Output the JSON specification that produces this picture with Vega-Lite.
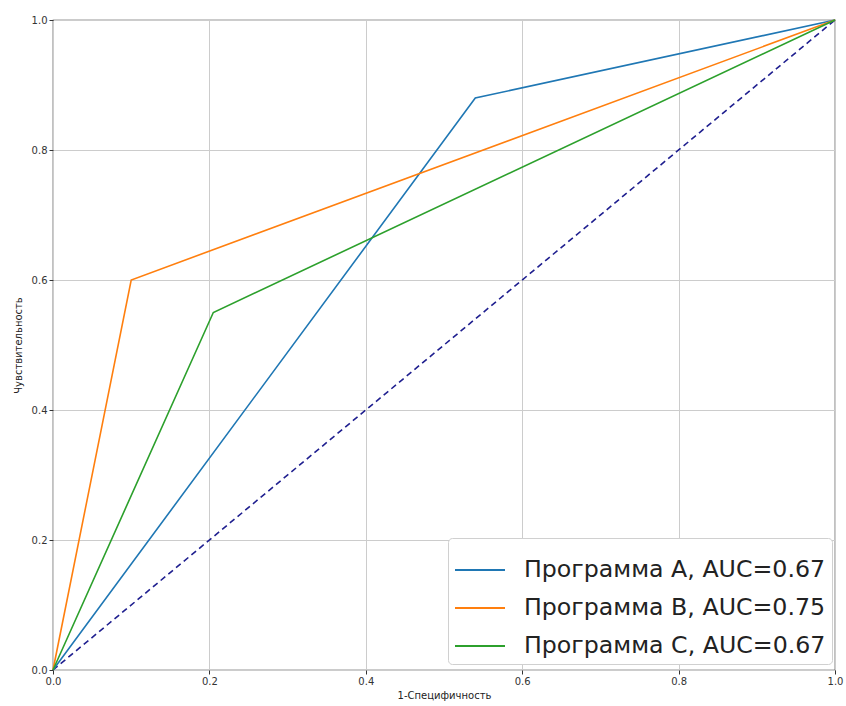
{
  "$schema": "https://vega.github.io/schema/vega-lite/v6.json",
  "width": 782,
  "height": 650,
  "autosize": "none",
  "padding": {"left": 53, "top": 20, "right": 11, "bottom": 36},
  "background": "white",
  "config": {
    "font": "DejaVu Sans",
    "view": {"stroke": "#333333", "strokeWidth": 1.2},
    "axis": {
      "gridColor": "#cccccc",
      "gridWidth": 1,
      "domain": false,
      "tickColor": "#333333",
      "tickSize": 4,
      "labelFontSize": 10,
      "labelColor": "#333333",
      "labelFlush": false,
      "titleFontSize": 10,
      "titleFontWeight": "normal",
      "titleColor": "#222222",
      "labelFont": "DejaVu Sans",
      "titleFont": "DejaVu Sans"
    }
  },
  "datasets": {
    "roc": [
      {"series": "Программа A, AUC=0.67", "fpr": 0.0, "tpr": 0.0, "ord": 0},
      {"series": "Программа A, AUC=0.67", "fpr": 0.54, "tpr": 0.88, "ord": 1},
      {"series": "Программа A, AUC=0.67", "fpr": 1.0, "tpr": 1.0, "ord": 2},
      {"series": "Программа B, AUC=0.75", "fpr": 0.0, "tpr": 0.0, "ord": 0},
      {"series": "Программа B, AUC=0.75", "fpr": 0.1, "tpr": 0.6, "ord": 1},
      {"series": "Программа B, AUC=0.75", "fpr": 1.0, "tpr": 1.0, "ord": 2},
      {"series": "Программа C, AUC=0.67", "fpr": 0.0, "tpr": 0.0, "ord": 0},
      {"series": "Программа C, AUC=0.67", "fpr": 0.205, "tpr": 0.55, "ord": 1},
      {"series": "Программа C, AUC=0.67", "fpr": 1.0, "tpr": 1.0, "ord": 2}
    ],
    "diag": [
      {"fpr": 0.0, "tpr": 0.0},
      {"fpr": 1.0, "tpr": 1.0}
    ]
  },
  "layer": [
    {
      "data": {"name": "diag"},
      "mark": {"type": "line", "color": "#1f1f8f", "strokeDash": [6, 4], "strokeWidth": 1.6, "clip": false},
      "encoding": {
        "x": {
          "field": "fpr", "type": "quantitative",
          "scale": {"domain": [0, 1], "nice": false, "zero": false},
          "axis": {"values": [0, 0.2, 0.4, 0.6, 0.8, 1.0], "format": ".1f", "title": "1-Специфичность", "titlePadding": 4}
        },
        "y": {
          "field": "tpr", "type": "quantitative",
          "scale": {"domain": [0, 1], "nice": false, "zero": false},
          "axis": {"values": [0, 0.2, 0.4, 0.6, 0.8, 1.0], "format": ".1f", "title": "Чувствительность", "titlePadding": 8}
        }
      }
    },
    {
      "data": {"name": "roc"},
      "mark": {"type": "line", "strokeWidth": 1.6, "clip": false},
      "encoding": {
        "x": {"field": "fpr", "type": "quantitative"},
        "y": {"field": "tpr", "type": "quantitative"},
        "order": {"field": "ord", "type": "quantitative"},
        "color": {
          "field": "series", "type": "nominal",
          "scale": {
            "domain": ["Программа A, AUC=0.67", "Программа B, AUC=0.75", "Программа C, AUC=0.67"],
            "range": ["#1f77b4", "#ff7f0e", "#2ca02c"]
          },
          "legend": {
            "title": null,
            "orient": "none",
            "legendX": 395,
            "legendY": 518,
            "symbolType": "stroke",
            "symbolSize": 2500,
            "symbolStrokeWidth": 2,
            "labelFontSize": 23.7,
            "labelLimit": 0,
            "labelColor": "#222222",
            "labelFont": "DejaVu Sans",
            "labelOffset": 18,
            "rowPadding": -4,
            "padding": 6,
            "strokeColor": "#d0d0d0",
            "fillColor": "white",
            "cornerRadius": 4
          }
        }
      }
    }
  ]
}
